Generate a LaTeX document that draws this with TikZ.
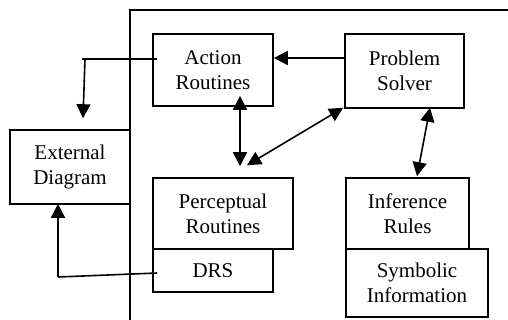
\documentclass[tikz,border=0pt]{standalone}
\usepackage{fontspec}
\setmainfont{Liberation Serif}
\usetikzlibrary{arrows.meta}
\begin{document}
\begin{tikzpicture}[x=1pt,y=-1pt,line width=1.6pt,
  box/.style={draw,inner sep=0pt,align=center,font=\fontsize{21}{25}\selectfont},
  arr/.style={-{Triangle[length=14pt,width=14pt]}},
  darr/.style={{Triangle[length=14pt,width=14pt]}-{Triangle[length=14pt,width=14pt]}}]
\useasboundingbox (0,0) rectangle (508,320);
% frame
\draw (508,10) -- (130,10) -- (130,320);
% boxes
\node[box,minimum width=120pt,minimum height=72pt] (ar) at (213,70) {Action\\Routines};
\node[box,minimum width=119pt,minimum height=74pt] (ps) at (404.5,71) {Problem\\Solver};
\node[box,minimum width=120pt,minimum height=74pt] (ed) at (70,167) {External\\Diagram};
\node[box,minimum width=140pt,minimum height=71pt] (pr) at (223,213.5) {Perceptual\\Routines};
\node[box,minimum width=120pt,minimum height=43pt] (drs) at (213,270.5) {DRS};
\node[box,minimum width=123pt,minimum height=71pt] (ir) at (407.5,213.5) {Inference\\Rules};
\node[box,minimum width=142pt,minimum height=68pt] (si) at (417,283) {Symbolic\\Information};
% connectors
\coordinate (c1) at (82,59);
\coordinate (c2) at (85,59);
\coordinate (c3) at (58,277);
\draw[arr] ([yshift=13pt]ps.west) -- ([yshift=12pt]ar.east);
\draw ([xshift=5pt,yshift=11pt]ar.west) -- (c1);
\draw[arr] (c2) -- ([xshift=13pt,yshift=11pt]ed.north);
\draw[darr] ([xshift=27pt,yshift=11pt]ar.south) -- ([xshift=17pt,yshift=11pt]pr.north);
\draw[darr] ([xshift=-1pt,yshift=1pt]ps.south west) -- ([xshift=24pt,yshift=12pt]pr.north);
\draw[darr] ([xshift=25.5pt,yshift=1pt]ps.south) -- ([xshift=9.5pt,yshift=1pt]ir.north);
\draw ([xshift=5pt,yshift=-2.5pt]drs.west) -- (c3);
\draw[arr] (c3) -- ([xshift=-12pt,yshift=1pt]ed.south);
\end{tikzpicture}
\end{document}
